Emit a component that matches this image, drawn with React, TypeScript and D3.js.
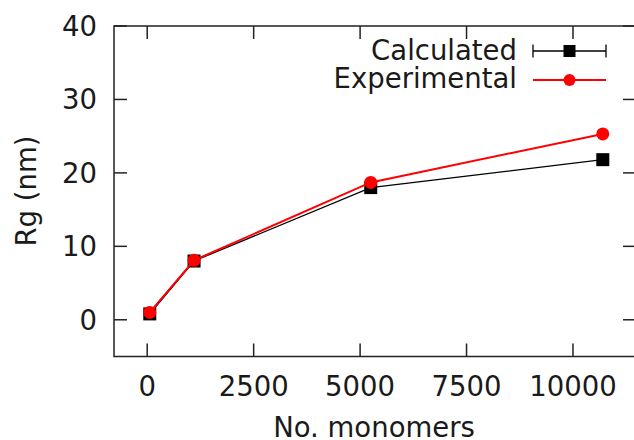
import React from "react";
import * as d3 from "d3";

const monomers = [60, 1100, 5250, 10700];
const calculated = [0.8, 8.0, 18.0, 21.8];
const experimental = [1.0, 8.1, 18.7, 25.3];
const xTicks = [0, 2500, 5000, 7500, 10000];
const yTicks = [0, 10, 20, 30, 40];
const seriesNames = ["Calculated", "Experimental"];

const W = 634, H = 440;
const L = 114, R = 636, T = 26, B = 356.5;
const FONT = "DejaVu Sans, sans-serif";
const FS = 27.5;

export default function App() {
  const x = d3.scaleLinear().domain([-780, 11480]).range([L, R]);
  const y = d3.scaleLinear().domain([-5, 40]).range([B, T]);
  const line = d3.line<[number, number]>().x(d => x(d[0])).y(d => y(d[1]));
  const calcPts = monomers.map((m, i) => [m, calculated[i]] as [number, number]);
  const expPts = monomers.map((m, i) => [m, experimental[i]] as [number, number]);
  const tickLen = 13;
  const frame = "#222";
  const txt = "#1a1a1a";
  return (
    <svg width={W} height={H} style={{ position: "absolute", left: 0, top: 0, background: "#fff" }}>
      <rect x={0} y={0} width={W} height={H} fill="#fff" />
      <rect x={L} y={T} width={R - L} height={B - T} fill="none" stroke={frame} strokeWidth={1.5} />
      {xTicks.map(t => (
        <g key={"x" + t}>
          <line x1={x(t)} x2={x(t)} y1={B} y2={B - tickLen} stroke={frame} strokeWidth={1.5} />
          <line x1={x(t)} x2={x(t)} y1={T} y2={T + tickLen} stroke={frame} strokeWidth={1.5} />
          <text x={x(t)} y={B + 29} textAnchor="middle" dominantBaseline="central" fontFamily={FONT} fontSize={FS} fill={txt}>{t}</text>
        </g>
      ))}
      {yTicks.map(t => (
        <g key={"y" + t}>
          <line x1={L} x2={L + tickLen} y1={y(t)} y2={y(t)} stroke={frame} strokeWidth={1.5} />
          <line x1={R} x2={R - tickLen} y1={y(t)} y2={y(t)} stroke={frame} strokeWidth={1.5} />
          <text x={97} y={y(t)} textAnchor="end" dominantBaseline="central" fontFamily={FONT} fontSize={FS} fill={txt}>{t}</text>
        </g>
      ))}
      <text x={374} y={427} textAnchor="middle" dominantBaseline="central" fontFamily={FONT} fontSize={FS} fill={txt}>No. monomers</text>
      <text transform={`translate(26,191) rotate(-90)`} textAnchor="middle" dominantBaseline="central" fontFamily={FONT} fontSize={FS} fill={txt}>Rg (nm)</text>
      <path d={line(calcPts) || ""} fill="none" stroke="#000" strokeWidth={1.3} />
      {calcPts.map((p, i) => (
        <rect key={"c" + i} x={x(p[0]) - 6.5} y={y(p[1]) - 6.5} width={13} height={13} fill="#000" />
      ))}
      <path d={line(expPts) || ""} fill="none" stroke="#ff0000" strokeWidth={2} />
      {expPts.map((p, i) => (
        <circle key={"e" + i} cx={x(p[0])} cy={y(p[1])} r={6.5} fill="#ff0000" />
      ))}
      <text x={517} y={50} textAnchor="end" dominantBaseline="central" fontFamily={FONT} fontSize={FS} fill={txt}>{seriesNames[0]}</text>
      <line x1={533} x2={606} y1={51} y2={51} stroke="#000" strokeWidth={1.3} />
      <line x1={533} x2={533} y1={44.5} y2={57.5} stroke="#000" strokeWidth={1.3} />
      <line x1={606} x2={606} y1={44.5} y2={57.5} stroke="#000" strokeWidth={1.3} />
      <rect x={569.5 - 6} y={51 - 6} width={12} height={12} fill="#000" />
      <text x={517} y={78} textAnchor="end" dominantBaseline="central" fontFamily={FONT} fontSize={FS} fill={txt}>{seriesNames[1]}</text>
      <line x1={533} x2={606} y1={80} y2={80} stroke="#ff0000" strokeWidth={2} />
      <circle cx={569.5} cy={80} r={6} fill="#ff0000" />
    </svg>
  );
}
